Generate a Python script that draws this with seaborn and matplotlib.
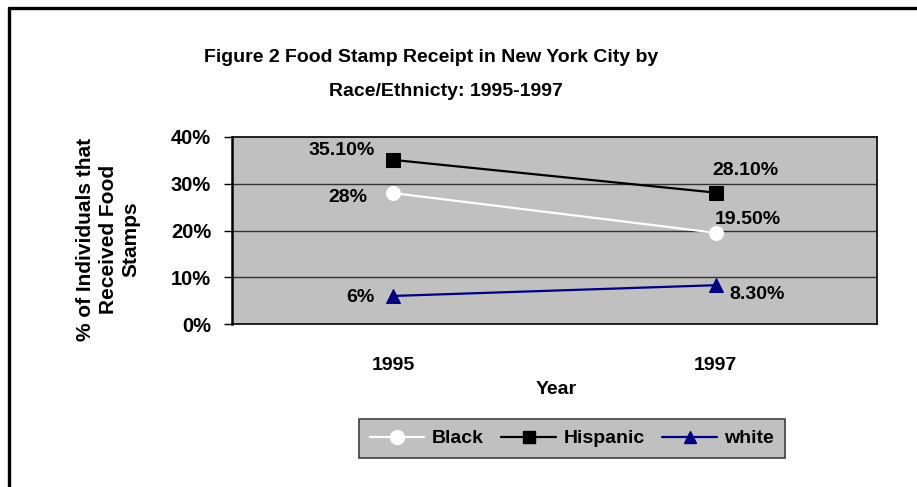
import matplotlib
matplotlib.use("Agg")
import matplotlib.pyplot as plt
from matplotlib.lines import Line2D
import seaborn as sns

years = ["1995", "1997"]
black = [28.0, 19.5]
hispanic = [35.1, 28.1]
white = [6.0, 8.3]
black_labels = ["28%", "19.50%"]
hispanic_labels = ["35.10%", "28.10%"]
white_labels = ["6%", "8.30%"]
yticks = [0, 10, 20, 30, 40]

sns.set_theme(style="white")
FONT = ["Liberation Sans Narrow", "Liberation Sans", "DejaVu Sans"]
plt.rcParams["font.family"] = FONT
plt.rcParams["font.weight"] = "bold"
for key in ["text.color", "axes.labelcolor", "xtick.color", "ytick.color"]:
    plt.rcParams[key] = "black"

W, H = 917, 487
fig = plt.figure(figsize=(W / 100, H / 100), dpi=100)
fig.patch.set_facecolor("white")

def fx(px):
    return px / W

def fy(py):
    return 1 - py / H

ax = fig.add_axes([fx(232), fy(324), fx(877) - fx(232), fy(137) - fy(324)])
ax.set_facecolor("#C0C0C0")

pos = list(range(len(years)))
series = [
    ("Black", black, "white", "o", 10),
    ("Hispanic", hispanic, "black", "s", 9.5),
    ("white", white, "#000080", "^", 10),
]
for name, vals, col, mk, ms in series:
    sns.lineplot(x=pos, y=vals, ax=ax, color=col, linewidth=1.6, marker=mk,
                 markersize=ms, markeredgecolor=col, markerfacecolor=col,
                 label=name, legend=False, zorder=3)

ax.set_xlim(-0.5, 1.5)
ax.set_ylim(0, 40)
ax.set_yticks(yticks)
ax.set_yticklabels([f"{t}%" for t in yticks])
for y in yticks[1:-1]:
    ax.axhline(y, color="#333333", linewidth=1.0, zorder=1)

ax.set_xticks(pos)
ax.set_xticklabels(years)
ax.set_xticks([-0.5, 0.5, 1.5], minor=True)
ax.tick_params(axis="x", which="major", length=0, pad=24, labelsize=14,
               labelcolor="black")
ax.tick_params(axis="x", which="minor", length=7, width=1, color="black", direction="out")
ax.tick_params(axis="y", length=6, width=1, color="black", direction="out", pad=9,
               labelsize=14.5, labelcolor="black")
ax.tick_params(axis="both", left=True, bottom=True)
for lab in ax.get_xticklabels() + ax.get_yticklabels():
    lab.set_fontweight("bold")
    lab.set_family(FONT)

for s in ax.spines.values():
    s.set_color("black")
    s.set_linewidth(1.2)
ax.spines["left"].set_linewidth(1.8)

# value labels, offsets in pixels converted to points
def lab(i, v, text, dx, dy):
    ax.annotate(text, (pos[i], v), xytext=(dx * 0.72, dy * 0.72),
                textcoords="offset points", ha="center", va="center",
                fontsize=14, fontweight="bold", color="black", zorder=4)

lab(0, hispanic[0], hispanic_labels[0], -52, 9)
lab(0, black[0], black_labels[0], -45, -4)
lab(0, white[0], white_labels[0], -33, -2)
lab(1, hispanic[1], hispanic_labels[1], 30, 22)
lab(1, black[1], black_labels[1], 32, 13)
lab(1, white[1], white_labels[1], 41, -9)

fig.text(fx(431), fy(58), "Figure 2 Food Stamp Receipt in New York City by",
         ha="center", va="center", fontsize=14, fontweight="bold", color="black")
fig.text(fx(446), fy(92), "Race/Ethnicty: 1995-1997",
         ha="center", va="center", fontsize=14, fontweight="bold", color="black")
fig.text(fx(556), fy(390), "Year", ha="center", va="center",
         fontsize=14, fontweight="bold", color="black")
fig.text(fx(108), fy(239), "% of Individuals that\nReceived Food\nStamps",
         rotation=90, ha="center", va="center", multialignment="center",
         fontsize=15, fontweight="bold", linespacing=1.25, color="black")

handles = [
    Line2D([0], [0], color="white", lw=1.6, marker="o", markersize=10,
           markerfacecolor="white", markeredgecolor="white"),
    Line2D([0], [0], color="black", lw=1.6, marker="s", markersize=8.5,
           markerfacecolor="black", markeredgecolor="black"),
    Line2D([0], [0], color="#000080", lw=1.6, marker="^", markersize=9,
           markerfacecolor="#000080", markeredgecolor="#000080"),
]
leg = fig.legend(handles, ["Black", "Hispanic", "white"], ncol=3,
                 loc="center", bbox_to_anchor=(fx(572), fy(438.5)),
                 frameon=True, fancybox=False, framealpha=1,
                 facecolor="#C0C0C0", edgecolor="#404040",
                 prop={"family": FONT, "weight": "bold", "size": 14},
                 handlelength=2.8, columnspacing=0.9, handletextpad=0.4,
                 borderpad=0.55, borderaxespad=0, labelcolor="black")
leg.get_frame().set_linewidth(1.2)

# outer frame on the left and top edges
fig.add_artist(Line2D([fx(8.5), fx(8.5)], [0, fy(7.5)], color="black", lw=2.4,
                      transform=fig.transFigure))
fig.add_artist(Line2D([fx(8.5), 1], [fy(7.5), fy(7.5)], color="black", lw=2.4,
                      transform=fig.transFigure))

fig.savefig("out.png", dpi=100)
